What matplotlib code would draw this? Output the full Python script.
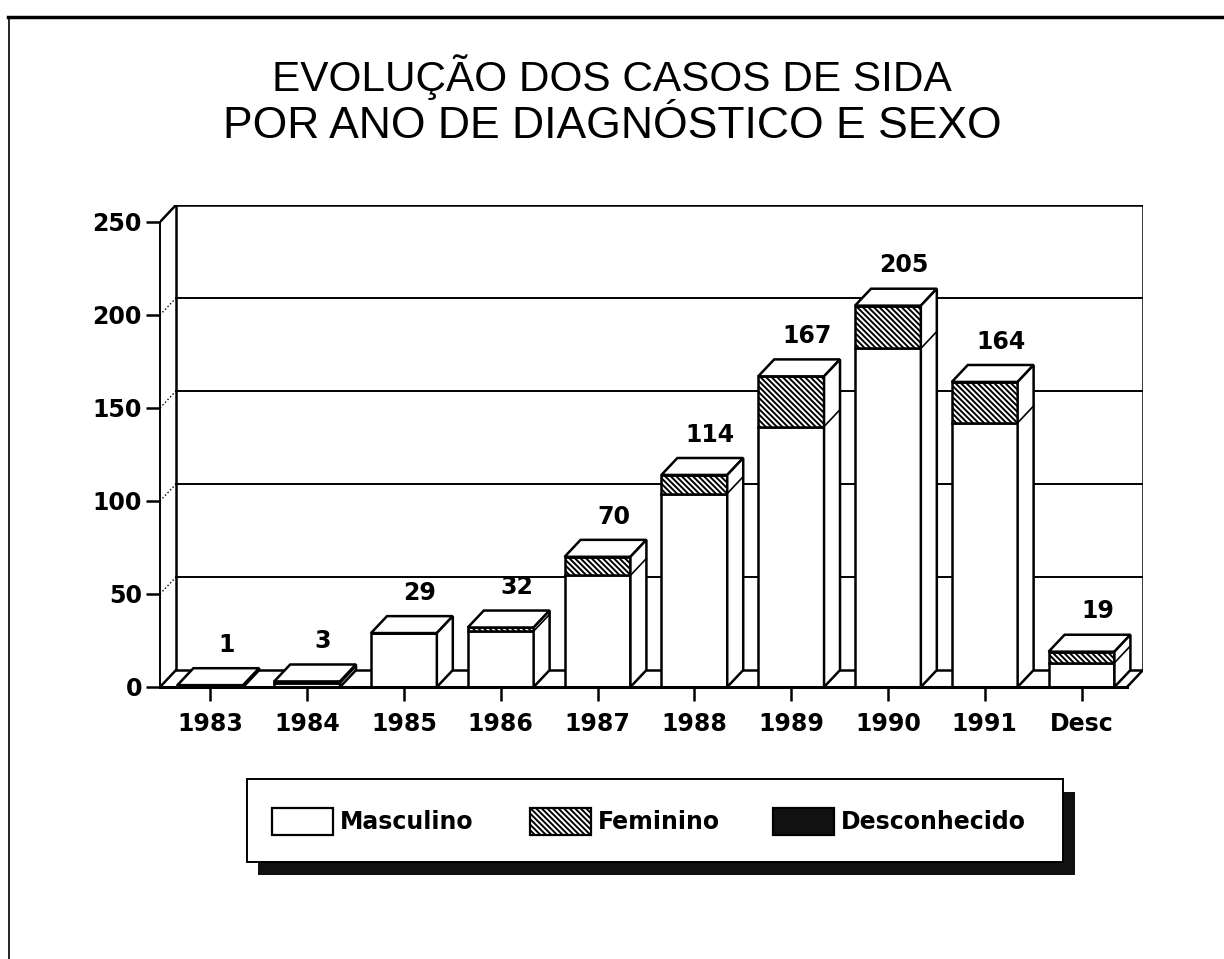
import matplotlib
matplotlib.use('Agg')
import matplotlib.pyplot as plt
from matplotlib.patches import Rectangle
from matplotlib.lines import Line2D
import numpy as np

# data
categories = ['1983', '1984', '1985', '1986', '1987', '1988', '1989', '1990', '1991', 'Desc']
masculino = [1, 2, 29, 30, 60, 104, 140, 182, 142, 13]
feminino = [0, 1, 0, 2, 10, 10, 27, 23, 22, 6]
desconhecido = [0, 0, 0, 0, 0, 0, 0, 0, 0, 0]
totals = [1, 3, 29, 32, 70, 114, 167, 205, 164, 19]
y_ticks = [0, 50, 100, 150, 200, 250]
legend_labels = ['Masculino', 'Feminino', 'Desconhecido']

title_lines = ['EVOLUÇÃO DOS CASOS DE SIDA', 'POR ANO DE DIAGNÓSTICO E SEXO']

# pseudo 3D depth, in data units
DX = 0.165
DY = 9.1
BAR_W = 0.68
X_LEFT = -0.52
X_RIGHT = 9.47
Y_TOP = 250

HATCH = '\\\\\\\\\\\\'
LW = 1.8

plt.rcParams['hatch.linewidth'] = 1.4
plt.rcParams['font.family'] = ['DejaVu Sans']

fig = plt.figure(figsize=(12.24, 9.59), dpi=100)
fig.patch.set_facecolor('white')

ax = fig.add_axes([160 / 1224, 272 / 959, 983 / 1224, 482 / 959])
ax.set_xlim(X_LEFT, X_RIGHT + DX)
ax.set_ylim(0, Y_TOP + DY)
ax.patch.set_alpha(0)

x = np.arange(len(categories))

# back wall and gridlines
ax.add_patch(Rectangle((X_LEFT + DX, DY), X_RIGHT - X_LEFT, Y_TOP, facecolor='white',
                       edgecolor='black', lw=LW, zorder=1))
for v in y_ticks[1:-1]:
    ax.plot([X_LEFT + DX, X_RIGHT + DX], [v + DY, v + DY], color='black', lw=1.4, zorder=1)
    ax.plot([X_LEFT, X_LEFT + DX], [v, v + DY], color='black', lw=1.0, ls=':', zorder=1)
ax.plot([X_LEFT, X_LEFT + DX], [Y_TOP, Y_TOP + DY], color='black', lw=LW, zorder=1)
ax.plot([X_LEFT, X_LEFT + DX], [0, DY], color='black', lw=LW, zorder=1)
ax.plot([X_RIGHT, X_RIGHT + DX], [0, DY], color='black', lw=LW, zorder=1)

# bars: front faces
ax.bar(x, masculino, width=BAR_W, color='white', edgecolor='black', lw=LW, zorder=3)
bottom2 = np.array(masculino)
ax.bar(x, feminino, width=BAR_W, bottom=bottom2, color='white', edgecolor='black',
       hatch=HATCH, lw=LW, zorder=3)
bottom3 = bottom2 + np.array(feminino)
ax.bar(x, desconhecido, width=BAR_W, bottom=bottom3, color='black', edgecolor='black',
       lw=LW, zorder=3)

# bars: top and side faces
for i, tot in enumerate(totals):
    xl = i - BAR_W / 2
    xr = i + BAR_W / 2
    ax.fill([xl, xl + DX, xr + DX, xr], [tot, tot + DY, tot + DY, tot],
            facecolor='white', edgecolor='black', lw=LW, zorder=3)
    ax.fill([xr, xr + DX, xr + DX, xr], [0, DY, tot + DY, tot],
            facecolor='white', edgecolor='black', lw=LW, zorder=3)
    if feminino[i] > 0 and masculino[i] > 0:
        m = masculino[i]
        ax.plot([xr, xr + DX], [m, m + DY], color='black', lw=1.2, zorder=4)
    ax.text(i + DX, tot + DY + 12.5, str(tot), ha='center', va='center',
            fontsize=17, fontweight='bold', zorder=5)

# axes and ticks
for s in ['top', 'right']:
    ax.spines[s].set_visible(False)
ax.spines['left'].set_bounds(0, Y_TOP)
ax.spines['bottom'].set_bounds(X_LEFT, X_RIGHT)
ax.spines['left'].set_linewidth(1.4)
ax.spines['bottom'].set_linewidth(2.2)
ax.spines['left'].set_zorder(6)
ax.spines['bottom'].set_zorder(6)
ax.set_yticks(y_ticks)
ax.set_xticks(x)
ax.set_xticklabels(categories)
ax.tick_params(axis='both', direction='out', length=10, width=1.8, labelsize=17, pad=8)
for lab in ax.get_xticklabels() + ax.get_yticklabels():
    lab.set_fontweight('bold')
ax.tick_params(axis='y', pad=3)

# title
fig.text(0.5, 1 - 77 / 959, title_lines[0], ha='center', va='center', fontsize=30.5,
         family='Liberation Sans')
fig.text(0.5, 1 - 126 / 959, title_lines[1], ha='center', va='center', fontsize=32,
         family='Liberation Sans')

# legend, drawn in pixel coordinates
lg = fig.add_axes([0, 0, 1, 1], zorder=10)
lg.set_xlim(0, 1224)
lg.set_ylim(959, 0)
lg.axis('off')
lg.patch.set_alpha(0)
lg.add_patch(Rectangle((258, 792), 817, 83, facecolor='#111111', edgecolor='none'))
lg.add_patch(Rectangle((247, 779), 816, 83, facecolor='white', edgecolor='black', lw=1.4))
swatch_x = [272, 530, 773]
swatch_styles = [dict(facecolor='white', hatch=None),
                 dict(facecolor='white', hatch=HATCH),
                 dict(facecolor='#111111', hatch=None)]
for sx, label, st in zip(swatch_x, legend_labels, swatch_styles):
    lg.add_patch(Rectangle((sx, 808), 61, 27, edgecolor='black', lw=1.6, **st))
    lg.text(sx + 68, 822, label, ha='left', va='center', fontsize=17, fontweight='bold')

# page frame
fig.add_artist(Line2D([8 / 1224, 1], [1 - 17 / 959, 1 - 17 / 959], color='black', lw=2.5))
fig.add_artist(Line2D([9 / 1224, 9 / 1224], [0, 1 - 17 / 959], color='black', lw=1.2))

plt.savefig('out.png', dpi=100)
